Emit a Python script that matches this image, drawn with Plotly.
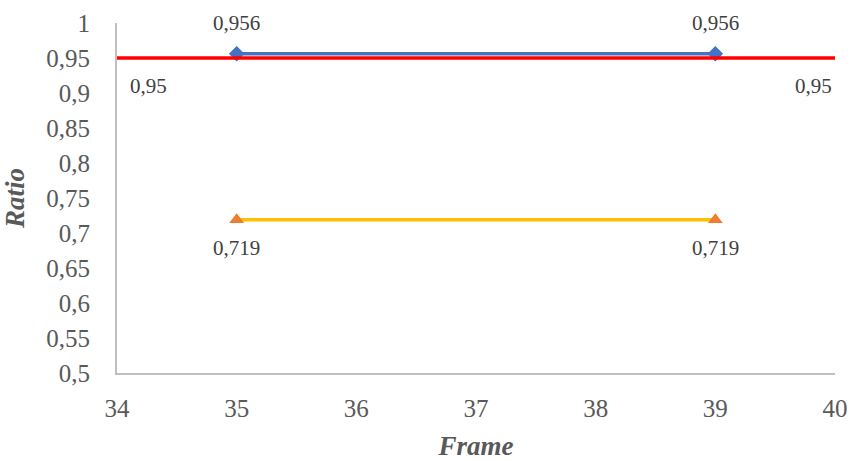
import plotly.graph_objects as go

# Frame numbers and ratio series
frames = [35, 39]
ratio_high = [0.956, 0.956]
ratio_low = [0.719, 0.719]
threshold_frames = [34, 40]
threshold = [0.95, 0.95]

y_ticks = [0.5, 0.55, 0.6, 0.65, 0.7, 0.75, 0.8, 0.85, 0.9, 0.95, 1.0]
x_ticks = [34, 35, 36, 37, 38, 39, 40]

SERIF = "'Liberation Serif', 'Times New Roman', serif"
TEXT_GRAY = "#595959"


def fmt(v):
    return ("%g" % v).replace(".", ",")


fig = go.Figure()

fig.add_trace(go.Scatter(
    x=frames, y=ratio_high, mode="lines+markers",
    line=dict(color="#4472C4", width=3.5),
    marker=dict(symbol="diamond", size=12, color="#4472C4"),
    showlegend=False,
))
fig.add_trace(go.Scatter(
    x=frames, y=ratio_low, mode="lines+markers",
    line=dict(color="#FFC000", width=3.5),
    marker=dict(symbol="triangle-up", size=13, color="#ED7D31"),
    showlegend=False,
))
# Threshold line drawn last so it sits over the upper series
fig.add_trace(go.Scatter(
    x=threshold_frames, y=threshold, mode="lines",
    line=dict(color="#FF0000", width=3.5), showlegend=False, hoverinfo="skip",
))

annotations = []
for x, y in zip(frames, ratio_high):
    annotations.append(dict(x=x, y=y, text=fmt(y), showarrow=False, yshift=31,
                            font=dict(family=SERIF, size=21, color="#404040")))
for x, y in zip(frames, ratio_low):
    annotations.append(dict(x=x, y=y, text=fmt(y), showarrow=False, yshift=-28,
                            font=dict(family=SERIF, size=21, color="#404040")))
for (x, y), dx in zip(zip(threshold_frames, threshold), [31, -22]):
    annotations.append(dict(x=x, y=y, text=fmt(y), showarrow=False, yshift=-28,
                            xshift=dx,
                            font=dict(family=SERIF, size=21, color="#404040")))

fig.update_layout(
    width=853, height=461,
    margin=dict(l=117, r=18, t=23, b=88, autoexpand=False),
    paper_bgcolor="white", plot_bgcolor="white",
    separators=",.",
    font=dict(family=SERIF),
    annotations=annotations,
    xaxis=dict(
        range=[34, 40], tickvals=x_ticks, showgrid=False, zeroline=False,
        showline=True, linecolor="#BFBFBF", linewidth=2, ticks="",
        automargin=False, ticklabelstandoff=12,
        tickfont=dict(family=SERIF, size=25, color=TEXT_GRAY),
        title=dict(text="<b><i>Frame</i></b>",
                   font=dict(family=SERIF, size=27, color=TEXT_GRAY)),
    ),
    yaxis=dict(
        range=[0.5, 1.0], tickvals=y_ticks, ticktext=[fmt(v) for v in y_ticks],
        showgrid=False, zeroline=False,
        showline=True, linecolor="#BFBFBF", linewidth=2, ticks="",
        automargin=False, ticklabelstandoff=20,
        tickfont=dict(family=SERIF, size=25, color=TEXT_GRAY),
        title=dict(text="<b><i>Ratio</i></b>",
                   font=dict(family=SERIF, size=27, color=TEXT_GRAY)),
    ),
)

fig.write_html("out.html")
